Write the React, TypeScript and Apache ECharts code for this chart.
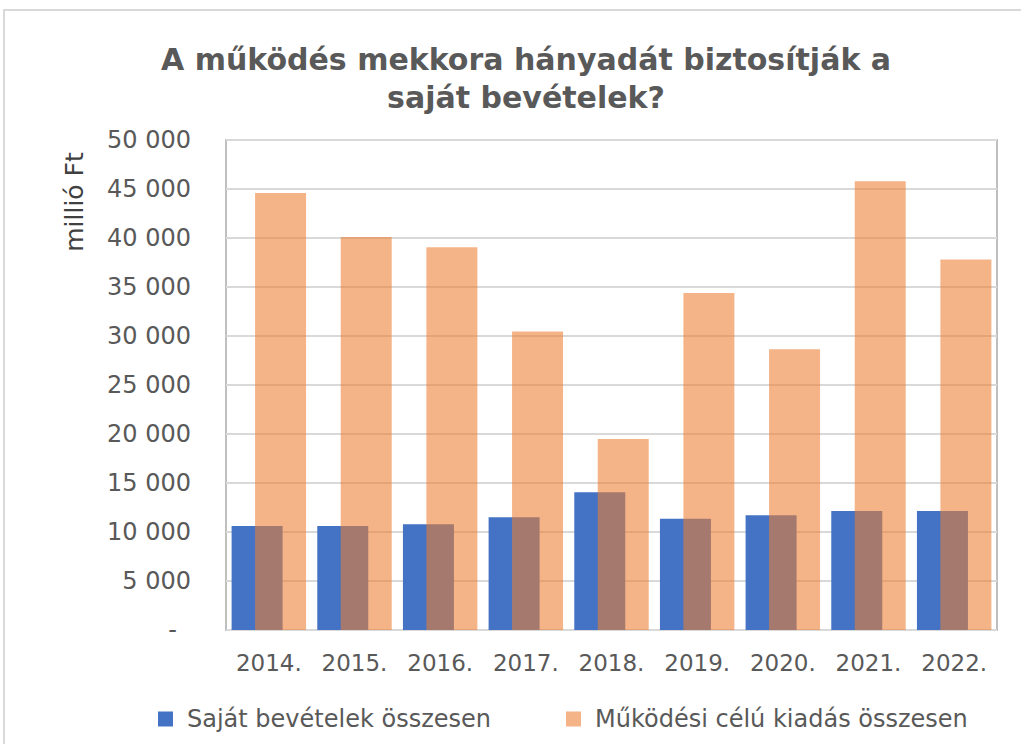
import React, { useEffect, useRef } from "react";
import * as echarts from "echarts";

const categories = ["2014.", "2015.", "2016.", "2017.", "2018.", "2019.", "2020.", "2021.", "2022."];
const sajatBevetelek = [10600, 10600, 10800, 11500, 14050, 11350, 11700, 12150, 12150];
const mukodesiKiadas = [44600, 40100, 39050, 30450, 19500, 34400, 28650, 45800, 37800];
const seriesNames = ["Saját bevételek összesen", "Működési célú kiadás összesen"];
const titleLines = ["A működés mekkora hányadát biztosítják a", "saját bevételek?"];
const yAxisName = "millió Ft";

const FONT = "DejaVu Sans";

function fmt(v: number): string {
  if (v === 0) return "{d|-}";
  const s = String(Math.round(v));
  return s.replace(/\B(?=(\d{3})+(?!\d))/g, " ");
}

export default function App() {
  const ref = useRef<HTMLDivElement>(null);
  useEffect(() => {
    if (!ref.current) return;
    const chart = echarts.init(ref.current, undefined, { renderer: "svg" });
    chart.setOption({
      animation: false,
      backgroundColor: "#ffffff",
      textStyle: { fontFamily: FONT },
      grid: {
        left: 226,
        right: 24,
        top: 140,
        bottom: 114,
        show: true,
        borderColor: "#BFBFBF",
        borderWidth: 2,
        backgroundColor: "transparent",
      },
      graphic: [
        {
          type: "rect",
          shape: { x: 4, y: 10, width: 1040, height: 760 },
          style: { fill: "none", stroke: "#D9D9D9", lineWidth: 2 },
          silent: true,
        },
        {
          type: "text",
          x: 526,
          y: 40,
          style: {
            text: titleLines.join("\n"),
            fill: "#595959",
            font: `bold 30px '${FONT}'`,
            textAlign: "center",
            textVerticalAlign: "top",
            lineHeight: 38,
          },
        },
        {
          type: "text",
          x: 74,
          y: 202,
          rotation: Math.PI / 2,
          style: {
            text: yAxisName,
            fill: "#404040",
            font: `25px '${FONT}'`,
            textAlign: "center",
            textVerticalAlign: "middle",
          },
        },
      ],
      legend: {
        bottom: 8,
        left: 153,
        itemWidth: 15,
        itemHeight: 15,
        itemGap: 75,
        icon: "rect",
        textStyle: { fontSize: 24, color: "#595959", fontFamily: FONT, padding: [0, 0, 0, 9] },
        data: seriesNames,
      },
      xAxis: {
        type: "category",
        data: categories,
        axisLine: { show: false },
        axisTick: { show: false },
        axisLabel: { fontSize: 23, color: "#595959", margin: 21, fontFamily: FONT },
      },
      yAxis: {
        type: "value",
        min: 0,
        max: 50000,
        interval: 5000,
        axisLine: { show: false },
        axisTick: { show: false },
        splitLine: { lineStyle: { color: "#D9D9D9", width: 2 } },
        axisLabel: {
          fontSize: 24,
          color: "#595959",
          margin: 35,
          fontFamily: FONT,
          formatter: fmt,
          rich: { d: { fontSize: 24, color: "#595959", padding: [0, 14, 0, 0], fontFamily: FONT } },
        },
      },
      series: [
        {
          name: seriesNames[0],
          type: "bar",
          data: sajatBevetelek,
          barWidth: 51,
          barGap: "-54%",
          itemStyle: { color: "#4472C4" },
        },
        {
          name: seriesNames[1],
          type: "bar",
          data: mukodesiKiadas,
          barWidth: 51,
          barGap: "-54%",
          itemStyle: { color: "rgba(237,125,49,0.58)" },
        },
      ],
    });
    return () => chart.dispose();
  }, []);
  return (
    <div
      ref={ref}
      style={{ position: "fixed", left: 0, top: 0, width: 1021, height: 744, background: "#fff" }}
    />
  );
}
